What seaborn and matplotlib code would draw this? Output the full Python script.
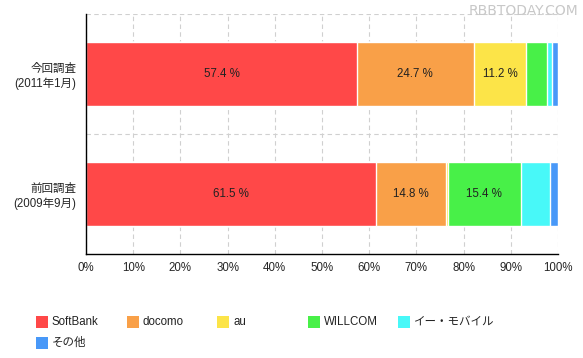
import numpy as np
import pandas as pd
import matplotlib
matplotlib.use("Agg")
import matplotlib.pyplot as plt
import seaborn as sns
from matplotlib.patches import Rectangle

# ---- data ----
categories = ["今回調査\n(2011年1月)", "前回調査\n(2009年9月)"]
series = ["SoftBank", "docomo", "au", "WILLCOM", "イー・モバイル", "その他"]
softbank = [57.4, 61.5]
docomo = [24.7, 14.8]
au = [11.2, 0.4]
willcom = [4.4, 15.4]
emobile = [1.0, 6.2]
other = [1.3, 1.7]
colors = ["#FF4848", "#F9A048", "#FCE448", "#48F048", "#48F8F8", "#4898F8"]
xticks = [0, 10, 20, 30, 40, 50, 60, 70, 80, 90, 100]

values = [softbank, docomo, au, willcom, emobile, other]

sns.set_style("white")
plt.rcParams["font.family"] = ["Liberation Sans", "Noto Sans CJK JP", "DejaVu Sans"]

fig = plt.figure(figsize=(5.83, 3.58), dpi=100)
ax = fig.add_axes([86 / 583, 104 / 358, 472 / 583, 240 / 358])

# stacked via cumulative sums, drawn back-to-front
cum = np.cumsum(np.array(values), axis=0)
for i in range(len(series) - 1, -1, -1):
    df = pd.DataFrame({"cat": categories, "val": cum[i]})
    sns.barplot(data=df, x="val", y="cat", orient="h", color=colors[i],
                saturation=1, width=0.54, ax=ax, zorder=3)

# value labels for large segments
for j in range(len(categories)):
    start = 0.0
    for i in range(len(series)):
        v = values[i][j]
        if v >= 10:
            ax.text(start + v / 2, j, f"{v} %", ha="center", va="center",
                    fontsize=8.3, color="#222222", zorder=5)
        start += v

ax.set_xlim(0, 100)
ax.set_ylim(1.5, -0.5)
ax.set_xlabel("")
ax.set_ylabel("")
ax.set_xticks(xticks)
ax.set_xticklabels([f"{t}%" for t in xticks], fontsize=8.3)
ax.set_yticks(range(len(categories)))
ax.set_yticklabels(categories, fontsize=8.3, linespacing=1.25)

# grid: dashed
for t in xticks:
    ax.axvline(t, color="#d0d0d0", ls=(0, (4, 3)), lw=0.8, zorder=1)
for yb in [-0.5, 0.5]:
    ax.axhline(yb, color="#d0d0d0", ls=(0, (4, 3)), lw=0.8, zorder=1)

for s in ["top", "right"]:
    ax.spines[s].set_visible(False)
for s in ["left", "bottom"]:
    ax.spines[s].set_color("black")
    ax.spines[s].set_linewidth(1.0)
    ax.spines[s].set_zorder(6)

ax.tick_params(axis="x", direction="out", length=4, width=0.8, color="black", pad=2)
ax.tick_params(axis="y", direction="out", length=6, width=0.8, color="black", pad=1)

# legend laid out in an even grid at the bottom
for k, (name, c) in enumerate(zip(series, colors)):
    col = k % 5
    row = k // 5
    x0 = 36 + col * 90.6
    yc = 322 + row * 21
    fig.patches.append(Rectangle((x0 / 583, 1 - (yc + 6) / 358), 12 / 583, 12 / 358,
                                 transform=fig.transFigure, facecolor=c,
                                 edgecolor="none", figure=fig))
    fig.text((x0 + 16) / 583, 1 - yc / 358, name, fontsize=8.3, va="center",
             ha="left", color="#222222")

# watermark
fig.text(578 / 583, 1 - 11 / 358, "RBBTODAY.COM", fontsize=10, ha="right",
         va="center", color="#c8c8c8", family=["DejaVu Sans"])

fig.savefig("out.png", dpi=100)
